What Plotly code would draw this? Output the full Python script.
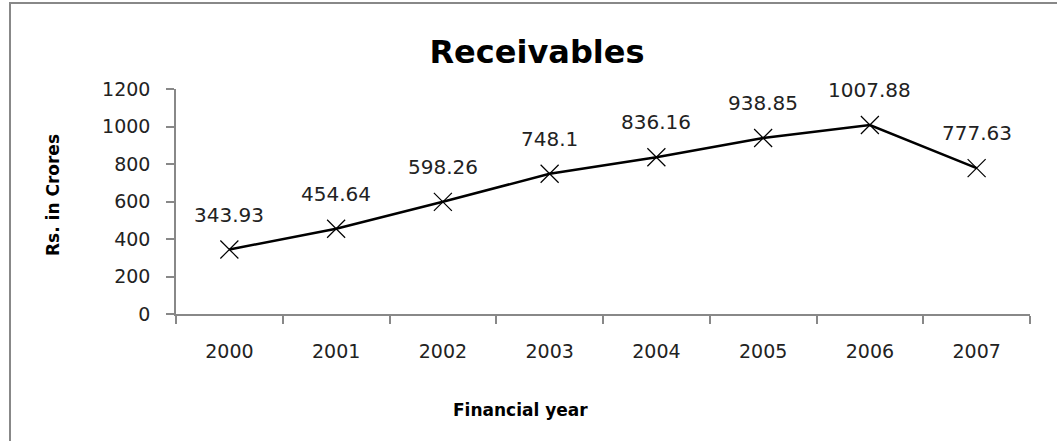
import plotly.graph_objects as go

years = ["2000", "2001", "2002", "2003", "2004", "2005", "2006", "2007"]
receivables = [343.93, 454.64, 598.26, 748.1, 836.16, 938.85, 1007.88, 777.63]
labels = ["343.93", "454.64", "598.26", "748.1", "836.16", "938.85", "1007.88", "777.63"]
y_ticks = [0, 200, 400, 600, 800, 1000, 1200]

W, H = 1057, 441
ML, MR, MT, MB = 176, 27, 89, 127
pw = W - ML - MR
ph = H - MT - MB

FONT = "DejaVu Sans"


def px_x(x):
    return (x - ML) / pw


def px_y(y):
    return (H - MB - y) / ph


fig = go.Figure()
fig.add_trace(go.Scatter(
    x=years, y=receivables, mode="lines+markers",
    line=dict(color="#000000", width=2.5),
    marker=dict(symbol="x-thin-open", size=18, line=dict(color="#404040", width=1.2)),
    showlegend=False, hoverinfo="skip",
))

for i, (v, t) in enumerate(zip(receivables, labels)):
    fig.add_annotation(x=i, y=v, xref="x", yref="y", text=t, showarrow=False, yshift=35,
                       font=dict(family=FONT, size=20, color="#222222"))

# axis titles
fig.add_annotation(x=px_x(520), y=px_y(410), xref="paper", yref="paper",
                   text="<b>Financial year</b>", showarrow=False,
                   xanchor="center", yanchor="middle",
                   font=dict(family=FONT, size=17, color="#000000"))
fig.add_annotation(x=px_x(53), y=px_y(195), xref="paper", yref="paper",
                   text="<b>Rs. in Crores</b>", showarrow=False, textangle=-90,
                   xanchor="center", yanchor="middle",
                   font=dict(family=FONT, size=17, color="#000000"))

# chart border
fig.add_shape(type="rect", xref="paper", yref="paper",
              x0=px_x(10), x1=px_x(1070), y0=px_y(3), y1=px_y(460),
              line=dict(color="#888888", width=2), fillcolor="rgba(0,0,0,0)", layer="below")

fig.update_layout(
    width=W, height=H,
    margin=dict(l=ML, r=MR, t=MT, b=MB),
    paper_bgcolor="white", plot_bgcolor="white",
    title=dict(text="<b>Receivables</b>", x=px_x(537), xref="paper", xanchor="center",
               y=1 - 52 / H, yref="container", yanchor="middle",
               font=dict(family=FONT, size=32, color="#000000")),
    font=dict(family=FONT, color="#222222"),
)

fig.update_xaxes(
    type="category", range=[-0.5, 7.5], tickson="boundaries",
    showline=True, linecolor="#888888", linewidth=1.5,
    ticks="outside", ticklen=8, tickcolor="#888888", tickwidth=1.5,
    showgrid=False, zeroline=False,
    tickfont=dict(family=FONT, size=19, color="#222222"),
    ticklabelstandoff=19,
)
fig.update_yaxes(
    range=[0, 1200], tickvals=y_ticks, ticktext=[str(v) for v in y_ticks],
    showline=True, linecolor="#888888", linewidth=1.5,
    ticks="outside", ticklen=8, tickcolor="#888888", tickwidth=1.5,
    showgrid=False, zeroline=False,
    tickfont=dict(family=FONT, size=19, color="#222222"),
    ticklabelstandoff=12,
)

fig.write_html("out.html")
